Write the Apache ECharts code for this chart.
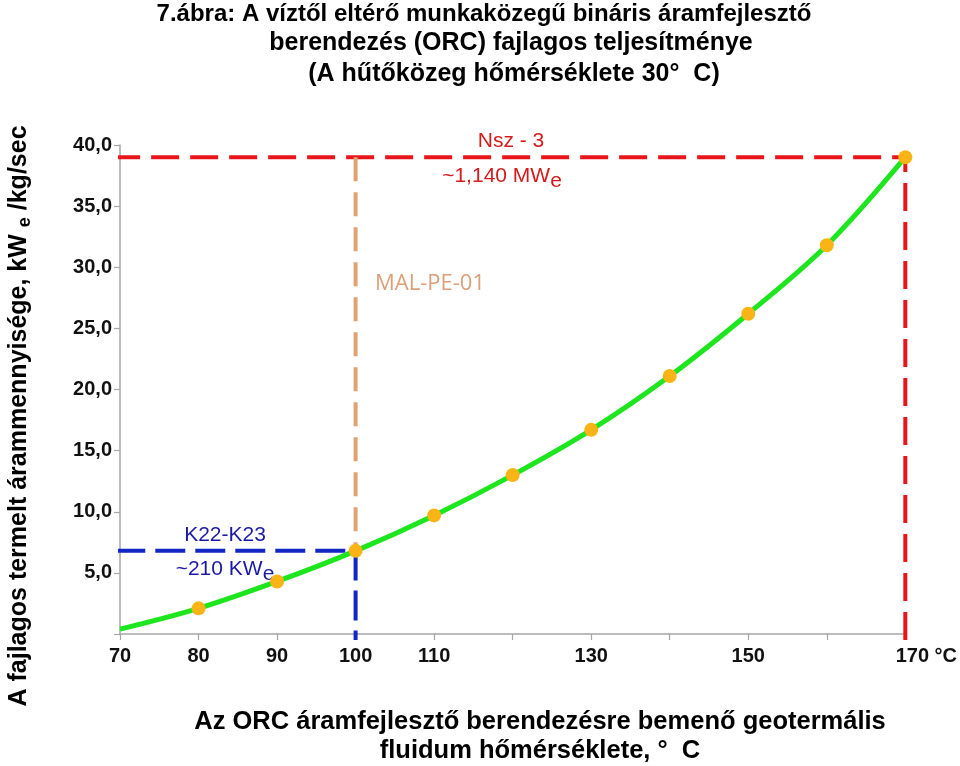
<!DOCTYPE html>
<html>
<head>
<meta charset="utf-8">
<script src="https://cdn.jsdelivr.net/npm/echarts@6/dist/echarts.min.js"></script>
<style>
html,body{margin:0;padding:0;background:#fff;}
#chart{width:960px;height:766px;}
</style>
</head>
<body>
<div id="chart"></div>
<script>
// ---- data ----
const temps = [70, 80, 90, 100, 110, 120, 130, 140, 150, 160, 170];
const power = [0.4, 2.1, 4.3, 6.8, 9.7, 13.0, 16.7, 21.1, 26.2, 31.8, 39.0];
const markerTemps = [80, 90, 100, 110, 120, 130, 140, 150, 160, 170];
const markerPower = [2.1, 4.3, 6.8, 9.7, 13.0, 16.7, 21.1, 26.2, 31.8, 39.0];
const hiddenXLabels = [120, 140, 160];
const nszTemp = 170, nszLevel = 39.0;
const k22Temp = 100, k22Level = 6.8;
const titleLines = [
  '7.ábra: A víztől eltérő munkaközegű bináris áramfejlesztő',
  'berendezés (ORC) fajlagos teljesítménye',
  '(A hűtőközeg hőmérséklete 30°  C)'
];
const xNameLines = [
  'Az ORC áramfejlesztő berendezésre bemenő geotermális',
  'fluidum hőmérséklete, °  C'
];

const FONT = '"Liberation Sans", Arial, sans-serif';
const RED = '#e8161b', BLUE = '#1226c4', TAN = '#e0a272', GREEN = '#1ee61e', ORANGE = '#fbb416';

const chart = echarts.init(document.getElementById('chart'), null, {renderer: 'canvas'});

const curve = temps.map((t, i) => [t, power[i]]);
const markers = markerTemps.map((t, i) => [t, markerPower[i]]);

const option = {
  backgroundColor: '#fff',
  animation: false,
  grid: {left: 120, right: 53, top: 145, bottom: 132},
  xAxis: {
    type: 'value', min: 70, max: 170, interval: 10,
    axisLine: {show: true, onZero: false, lineStyle: {color: '#a6a6a6', width: 1.5}},
    axisTick: {show: true, length: 6, lineStyle: {color: '#a6a6a6', width: 1.2}},
    splitLine: {show: false},
    axisLabel: {
      margin: 12, color: '#111', fontFamily: FONT, fontWeight: 'bold', fontSize: 20,
      formatter: v => hiddenXLabels.includes(v) ? '' : (v === 170 ? '{m|170 °C}' : String(v)),
      rich: {m: {fontFamily: FONT, fontWeight: 'bold', fontSize: 20, color: '#111', padding: [0, 0, 0, 42]}}
    }
  },
  yAxis: {
    type: 'value', min: 0, max: 40, interval: 5,
    axisLine: {show: true, lineStyle: {color: '#a6a6a6', width: 1.5}},
    axisTick: {show: true, length: 6, lineStyle: {color: '#a6a6a6', width: 1.2}},
    splitLine: {show: false},
    axisLabel: {
      margin: 8, color: '#111', fontFamily: FONT, fontWeight: 'bold', fontSize: 20,
      formatter: v => v === 0 ? '' : v.toFixed(1).replace('.', ',')
    }
  },
  series: [
    {
      type: 'line', clip: false, symbol: 'none', z: 1, silent: true,
      data: [[69.0, nszLevel], [nszTemp, nszLevel], [nszTemp, -0.5]],
      lineStyle: {color: RED, width: 4, type: [28, 11]}
    },
    {
      type: 'line', clip: false, symbol: 'none', z: 1, silent: true,
      data: [[k22Temp, nszLevel], [k22Temp, k22Level]],
      lineStyle: {color: TAN, width: 4, type: [24, 11]}
    },
    {
      type: 'line', clip: false, symbol: 'none', z: 1, silent: true,
      data: [[69.4, k22Level], [k22Temp, k22Level], [k22Temp, -0.5]],
      lineStyle: {color: BLUE, width: 4, type: [30, 10]}
    },
    {
      type: 'line', smooth: 0.35, symbol: 'none', z: 2,
      data: curve,
      lineStyle: {color: GREEN, width: 5}
    },
    {
      type: 'scatter', z: 3, symbolSize: 14,
      data: markers,
      itemStyle: {color: ORANGE, opacity: 1}
    }
  ],
  graphic: [
    {type: 'text', x: 484, y: 14, style: {text: titleLines[0], font: 'bold 24px ' + FONT, fill: '#000', align: 'center', verticalAlign: 'middle'}},
    {type: 'text', x: 511, y: 43, style: {text: titleLines[1], font: 'bold 25px ' + FONT, fill: '#000', align: 'center', verticalAlign: 'middle'}},
    {type: 'text', x: 514, y: 74, style: {text: titleLines[2], font: 'bold 25px ' + FONT, fill: '#000', align: 'center', verticalAlign: 'middle'}},
    {type: 'text', x: 540, y: 722, style: {text: xNameLines[0], font: 'bold 25.5px ' + FONT, fill: '#000', align: 'center', verticalAlign: 'middle'}},
    {type: 'text', x: 540, y: 751, style: {text: xNameLines[1], font: 'bold 25.5px ' + FONT, fill: '#000', align: 'center', verticalAlign: 'middle'}},
    {type: 'text', x: 19, y: 416, rotation: Math.PI / 2,
      style: {
        text: 'A fajlagos termelt árammennyisége, kW {s|e} /kg/sec',
        font: 'bold 25px ' + FONT, fill: '#000', align: 'center', verticalAlign: 'middle',
        rich: {s: {font: 'bold 18px ' + FONT, fill: '#000', padding: [12, 0, 0, 0]}}
      }},
    {type: 'text', x: 511, y: 141, style: {text: 'Nsz - 3', font: '21px ' + FONT, fill: '#d41a1a', align: 'center', verticalAlign: 'middle'}},
    {type: 'text', x: 502, y: 176, style: {text: '~1,140 MW{s|e}', font: '21px ' + FONT, fill: '#d41a1a', align: 'center', verticalAlign: 'middle',
      rich: {s: {font: '21px ' + FONT, fill: '#d41a1a', padding: [11, 0, 0, 0]}}}},
    {type: 'text', x: 430, y: 284, style: {text: 'MAL-PE-01', font: '22px "Open Sans", sans-serif', fill: '#dba07a', align: 'center', verticalAlign: 'middle'}},
    {type: 'text', x: 225, y: 535, style: {text: 'K22-K23', font: '21px ' + FONT, fill: '#1a1aa8', align: 'center', verticalAlign: 'middle'}},
    {type: 'text', x: 225, y: 569, style: {text: '~210 KW{s|e}', font: '21px ' + FONT, fill: '#1a1aa8', align: 'center', verticalAlign: 'middle',
      rich: {s: {font: '21px ' + FONT, fill: '#1a1aa8', padding: [11, 0, 0, 0]}}}}
  ]
};
chart.setOption(option);
</script>
</body>
</html>
